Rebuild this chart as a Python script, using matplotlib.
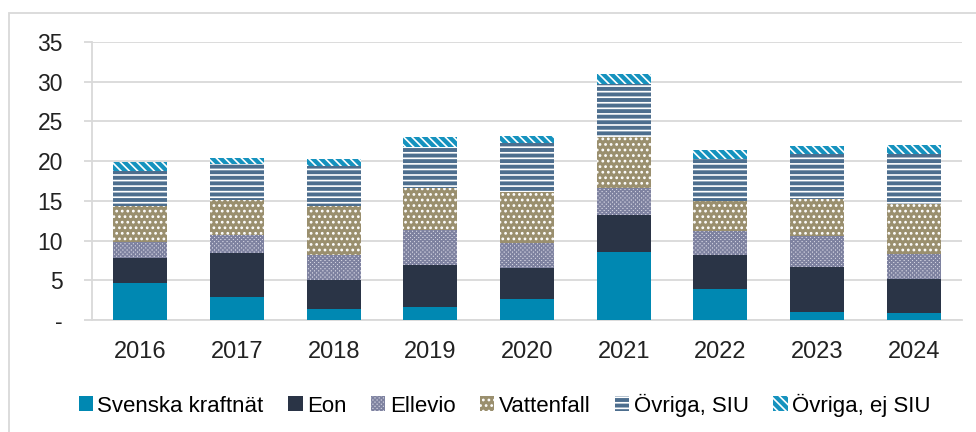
import matplotlib.pyplot as plt
import matplotlib.patches as mpatches
import numpy as np

plt.rcParams['font.family'] = ['Liberation Sans', 'DejaVu Sans']
plt.rcParams['hatch.linewidth'] = 1.2

years = ['2016', '2017', '2018', '2019', '2020', '2021', '2022', '2023', '2024']
svenska_kraftnat = [4.63, 2.95, 1.35, 1.67, 2.67, 8.57, 3.92, 1.05, 0.84]
eon = [3.16, 5.47, 3.70, 5.23, 3.93, 4.59, 4.21, 5.56, 4.34]
ellevio = [2.02, 2.23, 3.16, 4.47, 3.09, 3.43, 3.11, 3.92, 3.11]
vattenfall = [4.59, 4.51, 6.19, 5.22, 6.40, 6.48, 3.79, 4.75, 6.36]
ovriga_siu = [4.34, 4.42, 4.97, 5.21, 6.14, 6.68, 5.27, 5.56, 6.19]
ovriga_ej_siu = [1.18, 0.84, 0.92, 1.18, 0.92, 1.25, 1.09, 1.05, 1.14]

series = [
    ('Svenska kraftnät', svenska_kraftnat, '#0088B2', None, '#0088B2'),
    ('Eon', eon, '#2A3446', None, '#2A3446'),
    ('Ellevio', ellevio, '#D8D8E4', 'xxxxxxxx', '#7E82A0'),
    ('Vattenfall', vattenfall, '#9A8F6E', '...', 'white'),
    ('Övriga, SIU', ovriga_siu, '#4D6E8E', '---', 'white'),
    ('Övriga, ej SIU', ovriga_ej_siu, '#1592BE', '\\\\\\\\', 'white'),
]

fig = plt.figure(figsize=(9.76, 4.32), dpi=100)
ax = fig.add_axes([92/976, 1 - 320/432, (962 - 92)/976, (320 - 42)/432])

x = np.arange(len(years))
bottom = np.zeros(len(years))
handles = []
for name, vals, fc, hatch, hc in series:
    ax.bar(x, vals, 0.56, bottom=bottom, color=fc, hatch=hatch,
           edgecolor=hc, linewidth=0, zorder=3)
    bottom += np.array(vals)
    handles.append(mpatches.Patch(facecolor=fc, hatch=hatch, edgecolor=hc,
                                  linewidth=0, label=name))

ax.set_xlim(-0.5, len(years) - 0.5)
ax.set_ylim(0, 35)
ax.set_yticks(range(0, 36, 5))
ax.set_yticklabels(['-'] + [str(v) for v in range(5, 36, 5)])
ax.set_xticks(x)
ax.set_xticklabels(years)
ax.grid(axis='y', color='#D9D9D9', linewidth=1.3, zorder=0)
for s in ['top', 'right']:
    ax.spines[s].set_visible(False)
for s in ['left', 'bottom']:
    ax.spines[s].set_color('#D9D9D9')
    ax.spines[s].set_linewidth(1.3)
ax.tick_params(axis='y', length=6, color='#D9D9D9', width=1.3,
               labelsize=16.5, labelcolor='#222222', pad=15)
ax.tick_params(axis='x', length=0, labelsize=17, labelcolor='#222222', pad=15)

fig.legend(handles=handles, loc='center', bbox_to_anchor=(0.517, 1 - 405/432),
           ncol=6, frameon=False, fontsize=16, handlelength=0.65,
           handleheight=0.65, handletextpad=0.2, columnspacing=1.1)

# outer chart frame
fig.patches.append(mpatches.Rectangle((8.5/976, -0.1), 1.1, 1 - 12.5/432 + 0.1,
                                      transform=fig.transFigure, fill=False,
                                      edgecolor='#D9D9D9', linewidth=1.3))

fig.savefig('out.png', dpi=100)
